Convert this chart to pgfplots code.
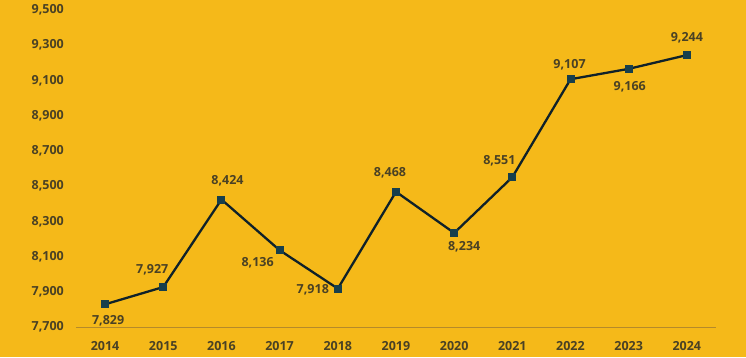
\documentclass[border=0pt]{standalone}
\usepackage{pgfplots}
\pgfplotsset{compat=1.18}
\usetikzlibrary{backgrounds}
\usepackage{fontspec}
\setmainfont{Open Sans}
\definecolor{bg}{HTML}{F5B919}
\definecolor{txt}{HTML}{4A4124}
\definecolor{ln}{HTML}{0F2129}
\definecolor{mk}{HTML}{173F4C}
\definecolor{axl}{HTML}{B58A2A}
\begin{document}
\begin{tikzpicture}[x=1pt,y=1pt, show background rectangle, inner frame sep=0pt,
  background rectangle/.style={fill=bg, draw=none}]
\begin{axis}[
  scale only axis,
  width=640pt, height=317pt,
  xmin=2013.5, xmax=2024.5,
  ymin=7700, ymax=9500,
  xtick={2014,...,2024},
  ytick={7700,7900,...,9500},
  clip=false,
  axis line style={draw=none},
  major tick length=0pt,
  tick style={draw=none},
  xticklabel style={/pgf/number format/1000 sep={}},
  yticklabel style={/pgf/number format/1000 sep={,}},
  /pgf/number format/assume math mode=true,
  tick label style={font=\fontsize{12.5}{14}\selectfont\bfseries, text=txt},
  xticklabel style={anchor=center, yshift=-19pt},
  yticklabel style={anchor=east, xshift=-12pt, inner sep=0pt},
  every axis plot/.append style={line join=round},
]
\path (rel axis cs:-0.11875,-0.0947) rectangle (rel axis cs:1.046875,1.0316);
\draw[axl, line width=0.8pt] (rel axis cs:0,0) -- (rel axis cs:1,0);
\addplot[
  ln, line width=2.3pt,
  mark=square*, mark size=3.5pt,
  mark options={fill=mk, draw=mk, line width=0pt},
  point meta=explicit symbolic,
  nodes near coords={\pgfplotspointmeta},
  visualization depends on={\thisrow{dx}\as\dx},
  visualization depends on={\thisrow{dy}\as\dy},
  every node near coord/.append style={anchor=center, xshift=\dx pt, yshift=\dy pt,
     font=\fontsize{12.5}{14}\selectfont\bfseries, text=txt},
] table[x=x, y=y, meta=lab] {
x y lab dx dy
2014 7829 {7,829} 3 -16
2015 7927 {7,927} -11 17
2016 8424 {8,424} 6 19
2017 8136 {8,136} -22 -13
2018 7918 {7,918} -25 -1
2019 8468 {8,468} -6 19
2020 8234 {8,234} 10 -14
2021 8551 {8,551} -13 16
2022 9107 {9,107} -1 14
2023 9166 {9,166} 1 -18
2024 9244 {9,244} 0 17
};
\end{axis}
\end{tikzpicture}
\end{document}
